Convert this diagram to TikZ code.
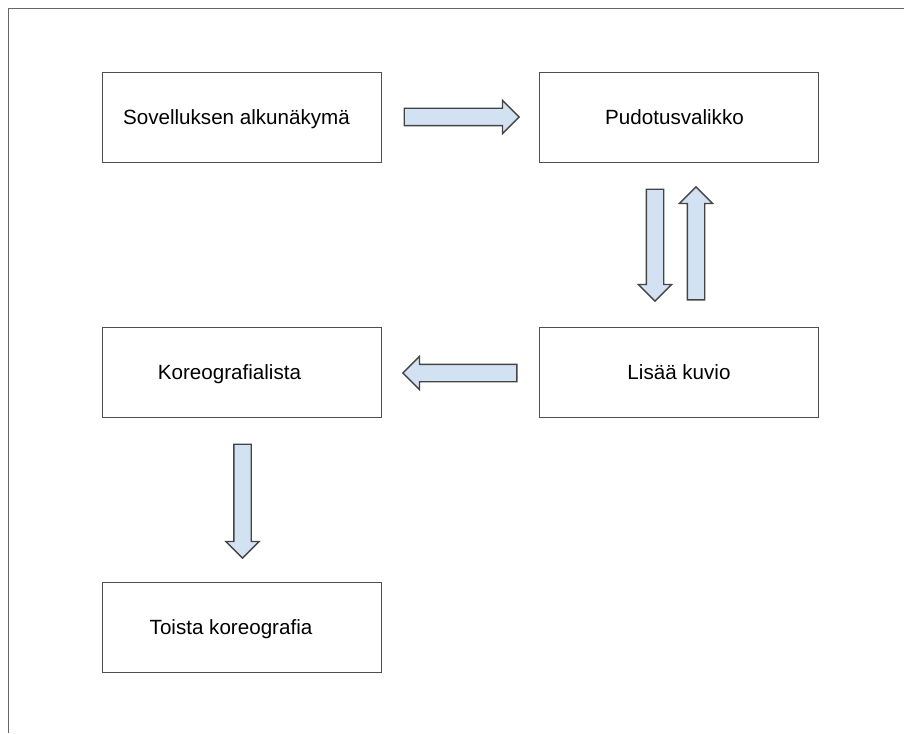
\documentclass[tikz,border=0pt]{standalone}
\usepackage{fontspec}
\setmainfont{Liberation Sans}
\usetikzlibrary{shapes.arrows}
\definecolor{framegray}{HTML}{666666}
\definecolor{boxgray}{HTML}{4E4E4E}
\definecolor{arrowfill}{HTML}{D3E2F3}
\definecolor{arrowline}{HTML}{444444}
\tikzset{
  box/.style={draw=boxgray, line width=1.6pt, fill=white, minimum width=279pt, minimum height=90pt, inner sep=0pt, text depth=0pt, font=\fontsize{20.6pt}{23pt}\selectfont},
  blockarrow/.style={single arrow, draw=arrowline, fill=arrowfill, line width=1.3pt, inner sep=8pt, minimum width=32pt, single arrow head extend=8pt, minimum height=#1, anchor=tail},
}
\begin{document}
\begin{tikzpicture}[x=1pt,y=-1pt]
\useasboundingbox (0,0) rectangle (904,733);
\fill[white] (0,0) rectangle (904,733);
\coordinate (fl) at (8.5,733);
\coordinate (ft) at (8.5,8.5);
\coordinate (fr) at (904,8.5);
\draw[framegray, line width=1.8pt] (fl) -- (ft) -- (fr);

\node[box] (alku) at (242,117.5) {\hspace*{-11pt}Sovelluksen alkunäkymä};
\node[box] (pudotus) at (679,117.5) {\hspace*{-9pt}Pudotusvalikko};
\node[box] (koreo) at (242,372.5) {\hspace*{-25pt}Koreografialista};
\node[box] (lisaa) at (679,372.5) {Lisää kuvio};
\node[box] (toista) at (242,627.5) {\hspace*{-22pt}Toista koreografia};

\node[blockarrow=115pt] (a1) at (403.5,117) {};
\node[blockarrow=112pt, rotate=-90] (a2) at (655,188.5) {};
\node[blockarrow=113pt, rotate=90] (a3) at (696,300.5) {};
\node[blockarrow=114pt, rotate=180] (a4) at (517.5,373) {};
\node[blockarrow=114pt, rotate=-90] (a5) at (242.5,443.5) {};
\end{tikzpicture}
\end{document}
